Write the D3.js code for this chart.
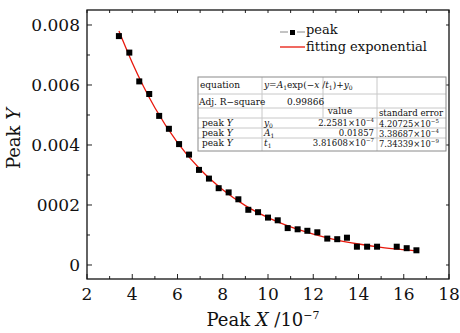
<!DOCTYPE html>
<html>
<head>
<meta charset="utf-8">
<script src="https://cdn.jsdelivr.net/npm/d3@7"></script>
<style>
  body { margin: 0; background: #fff; }
  svg text { font-family: "DejaVu Serif", serif; fill: #111; }
</style>
</head>
<body>
<div id="chart"></div>
<script>
// measured points (x in units of 10^-7)
const peakX = [3.41, 3.87, 4.31, 4.75, 5.19, 5.62, 6.07, 6.51, 6.95, 7.39, 7.82, 8.26, 8.69, 9.13, 9.56,
  10.0, 10.43, 10.87, 11.31, 11.74, 12.18, 12.62, 13.06, 13.49, 13.93, 14.38, 14.82, 15.69, 16.13, 16.56];
const peakY = [0.00763, 0.00708, 0.00612, 0.00570, 0.00497, 0.00454, 0.00403, 0.00368, 0.00317, 0.00288,
  0.00256, 0.00242, 0.00219, 0.00184, 0.00176, 0.00158, 0.00149, 0.00123, 0.00119, 0.00114,
  0.00109, 0.00088, 0.00086, 0.00091, 0.00061, 0.00061, 0.00061, 0.00061, 0.00056, 0.00049];

// fitted exponential curve
const fitX = [3.41, 4, 5, 6, 7, 8, 9, 10, 11, 12, 13, 14, 15, 16, 16.56];
const fitY = [0.00780, 0.00674, 0.00524, 0.00408, 0.00319, 0.00251, 0.00198, 0.00158, 0.00127,
  0.00103, 0.00084, 0.00070, 0.00059, 0.00051, 0.00047];

const xTicks = [2, 4, 6, 8, 10, 12, 14, 16, 18];
const yTicks = [0, 0.002, 0.004, 0.006, 0.008];
const yTickLabels = ["0", "0002", "0.004", "0.006", "0.008"];

const W = 460, H = 333;
const margin = {top: 10, right: 11, bottom: 54, left: 87};

const svg = d3.select("#chart").append("svg")
  .attr("width", W).attr("height", H);

const x = d3.scaleLinear().domain([2, 18]).range([margin.left, W - margin.right]);
const y = d3.scaleLinear().domain([-0.000467, 0.0085]).range([H - margin.bottom, margin.top]);

const x0 = x.range()[0], x1 = x.range()[1];
const yb = y.range()[0], yt = y.range()[1];

// minor ticks (inward)
const xMinor = d3.range(3, 18, 2);
const yMinor = [0.001, 0.003, 0.005, 0.007];

const ticks = svg.append("g").attr("stroke", "#222").attr("stroke-width", 1);
xTicks.forEach(v => {
  ticks.append("line").attr("x1", x(v)).attr("x2", x(v)).attr("y1", yb).attr("y2", yb - 5);
  ticks.append("line").attr("x1", x(v)).attr("x2", x(v)).attr("y1", yt).attr("y2", yt + 3);
});
xMinor.forEach(v => {
  ticks.append("line").attr("x1", x(v)).attr("x2", x(v)).attr("y1", yb).attr("y2", yb - 3);
  ticks.append("line").attr("x1", x(v)).attr("x2", x(v)).attr("y1", yt).attr("y2", yt + 3);
});
yTicks.forEach(v => {
  ticks.append("line").attr("x1", x0).attr("x2", x0 + 5).attr("y1", y(v)).attr("y2", y(v));
  ticks.append("line").attr("x1", x1).attr("x2", x1 - 3).attr("y1", y(v)).attr("y2", y(v));
});
yMinor.forEach(v => {
  ticks.append("line").attr("x1", x0).attr("x2", x0 + 3).attr("y1", y(v)).attr("y2", y(v));
});

// frame
svg.append("rect")
  .attr("x", x0).attr("y", yt).attr("width", x1 - x0).attr("height", yb - yt)
  .attr("fill", "none").attr("stroke", "#111").attr("stroke-width", 1.3);

// tick labels
svg.append("g").selectAll("text").data(xTicks).join("text")
  .attr("x", d => x(d)).attr("y", yb + 21)
  .attr("text-anchor", "middle").style("font-size", "17px")
  .text(d => d);

svg.append("g").selectAll("text").data(yTicks).join("text")
  .attr("x", x0 - 7).attr("y", d => y(d) + 6)
  .attr("text-anchor", "end").style("font-size", "17px")
  .text((d, i) => yTickLabels[i]);

// axis titles
const xt = svg.append("text")
  .attr("x", (x0 + x1) / 2 - 5).attr("y", H - 7)
  .attr("text-anchor", "middle").style("font-size", "18px");
xt.append("tspan").text("Peak ");
xt.append("tspan").style("font-style", "italic").text("X");
xt.append("tspan").text(" /10");
xt.append("tspan").attr("dy", -7).style("font-size", "11px").text("\u22127");

const ytl = svg.append("text")
  .attr("transform", `translate(20, ${(yt + yb) / 2 - 6}) rotate(-90)`)
  .attr("text-anchor", "middle").style("font-size", "18px");
ytl.append("tspan").text("Peak ");
ytl.append("tspan").style("font-style", "italic").text("Y");

// fit curve
const line = d3.line()
  .x((d, i) => x(fitX[i]))
  .y(d => y(d))
  .curve(d3.curveMonotoneX);

svg.append("path")
  .datum(fitY)
  .attr("fill", "none")
  .attr("stroke", "#e8180c")
  .attr("stroke-width", 1.3)
  .attr("d", line);

// points
const sz = 6;
svg.append("g").selectAll("rect").data(peakY).join("rect")
  .attr("x", (d, i) => x(peakX[i]) - sz / 2)
  .attr("y", d => y(d) - sz / 2)
  .attr("width", sz).attr("height", sz)
  .attr("fill", "#000");

// legend
const lg = svg.append("g");
lg.append("line").attr("x1", 280).attr("x2", 288).attr("y1", 32).attr("y2", 32)
  .attr("stroke", "#888").attr("stroke-width", 1);
lg.append("line").attr("x1", 297).attr("x2", 305).attr("y1", 32).attr("y2", 32)
  .attr("stroke", "#888").attr("stroke-width", 1);
lg.append("rect").attr("x", 290).attr("y", 30).attr("width", 5).attr("height", 5).attr("fill", "#000");
lg.append("text").attr("x", 306).attr("y", 34).style("font-size", "13px").text("peak");
lg.append("line").attr("x1", 280).attr("x2", 305).attr("y1", 47).attr("y2", 47)
  .attr("stroke", "#e8180c").attr("stroke-width", 1.3);
lg.append("text").attr("x", 306).attr("y", 51).style("font-size", "13px").text("fitting exponential");

// statistics table
const tb = svg.append("g").style("font-size", "9px");
const tL = 198, tR = 446, tT = 77, tB = 151;
const hLines = [94, 108, 118, 128, 138];
hLines.forEach(v => tb.append("line").attr("x1", tL).attr("x2", tR).attr("y1", v).attr("y2", v)
  .attr("stroke", "#c8c8c8"));
tb.append("line").attr("x1", 262).attr("x2", 262).attr("y1", tT).attr("y2", tB).attr("stroke", "#c8c8c8");
tb.append("line").attr("x1", 323).attr("x2", 323).attr("y1", tT).attr("y2", 118).attr("stroke", "#c8c8c8");
tb.append("line").attr("x1", 377).attr("x2", 377).attr("y1", tT).attr("y2", tB).attr("stroke", "#c8c8c8");
tb.append("rect").attr("x", tL).attr("y", tT).attr("width", tR - tL).attr("height", tB - tT)
  .attr("fill", "none").attr("stroke", "#8a8a8a");

function addText(px, py, parts, anchor, fs) {
  const t = tb.append("text").attr("x", px).attr("y", py).attr("text-anchor", anchor || "start");
  if (fs) t.style("font-size", fs + "px");
  parts.forEach(p => {
    const s = t.append("tspan").text(p.t);
    if (p.i) s.style("font-style", "italic");
    if (p.sub) s.attr("dy", 2).style("font-size", "6px");
    if (p.sup) s.attr("dy", -4).style("font-size", "5.5px");
    if (p.back) s.attr("dy", p.back);
  });
  return t;
}

addText(200, 88, [{t: "equation"}]);
addText(264, 88, [{t: "y", i: 1}, {t: "="}, {t: "A", i: 1}, {t: "1", sub: 1}, {t: "exp(\u2212", back: -2},
  {t: "x", i: 1}, {t: " /"}, {t: "t", i: 1}, {t: "1", sub: 1}, {t: ")+", back: -2}, {t: "y", i: 1}, {t: "0", sub: 1}]);
addText(199, 105, [{t: "Adj. R\u2212square"}]);
addText(287, 105, [{t: "0.99866"}]);
addText(340, 114, [{t: "value"}], "middle");
addText(411, 116, [{t: "standard error"}], "middle", 8.6);

const rowNames = ["y", "A", "t"];
const rowSubs = ["0", "1", "1"];
const rowVal = [["2.2581\u00d710", "\u22124"], ["0.01857", ""], ["3.81608\u00d710", "\u22127"]];
const rowErr = [["4.20725\u00d710", "\u22125"], ["3.38687\u00d710", "\u22124"], ["7.34339\u00d710", "\u22129"]];
const rowBase = [126, 136, 146];

rowBase.forEach((b, i) => {
  addText(202, b, [{t: "peak "}, {t: "Y", i: 1}]);
  addText(264, b, [{t: rowNames[i], i: 1}, {t: rowSubs[i], sub: 1}]);
  const vp = [{t: rowVal[i][0]}];
  if (rowVal[i][1]) vp.push({t: rowVal[i][1], sup: 1});
  addText(374, b, vp, "end", 8.5);
  addText(379, b + 1, [{t: rowErr[i][0]}, {t: rowErr[i][1], sup: 1}], "start", 8.3);
});
</script>
</body>
</html>
